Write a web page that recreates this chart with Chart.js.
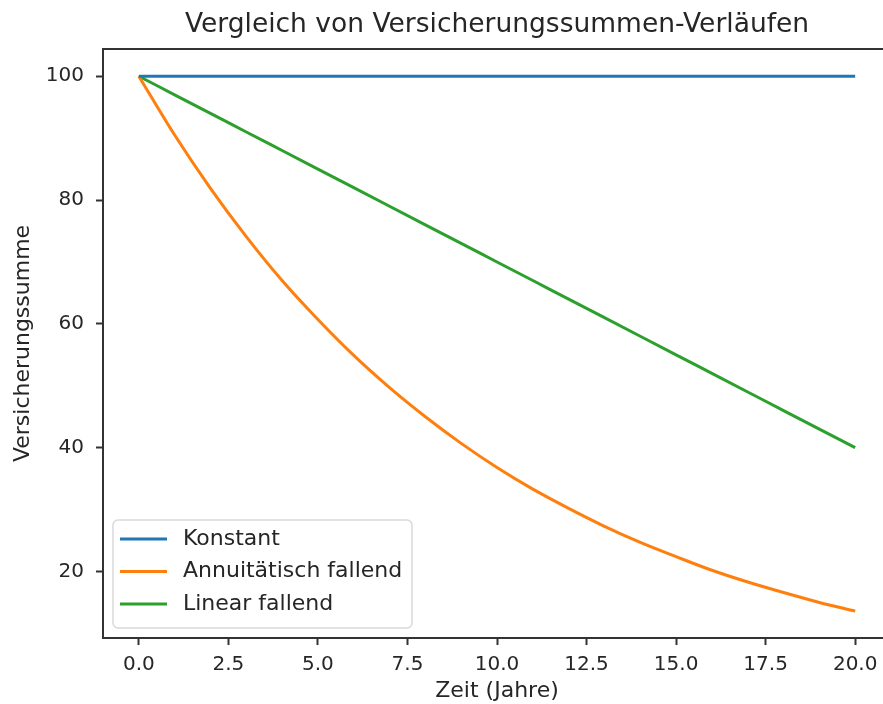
<!DOCTYPE html>
<html lang="de">
<head>
<meta charset="utf-8">
<title>Vergleich von Versicherungssummen-Verläufen</title>
<script src="https://cdn.jsdelivr.net/npm/chart.js@4.4.1/dist/chart.umd.min.js"></script>
<style>
    html, body { margin: 0; padding: 0; background: #fff; overflow: hidden; }
    #wrap { position: relative; width: 920px; height: 704px; }
</style>
</head>
<body>
<div id="wrap"><canvas id="sumChart"></canvas></div>
<script>
// Jahre 0..20
const years = [0, 1, 2, 3, 4, 5, 6, 7, 8, 9, 10, 11, 12, 13, 14, 15, 16, 17, 18, 19, 20];

// Versicherungssummen
const konstant = [100, 100, 100, 100, 100, 100, 100, 100, 100, 100, 100, 100, 100, 100, 100, 100, 100, 100, 100, 100, 100];
const annuitaetisch = [100, 90.5, 81.9, 74.1, 67.0, 60.7, 54.9, 49.7, 45.0, 40.7, 36.8, 33.3, 30.2, 27.3, 24.7, 22.4, 20.2, 18.3, 16.6, 15.0, 13.6];
const linear = [100, 97, 94, 91, 88, 85, 82, 79, 76, 73, 70, 67, 64, 61, 58, 55, 52, 49, 46, 43, 40];

const seriesLabels = ["Konstant", "Annuitätisch fallend", "Linear fallend"];
const seriesColors = ["#1f77b4", "#ff7f0e", "#2ca02c"];

const xTicks = [0, 2.5, 5, 7.5, 10, 12.5, 15, 17.5, 20];
const yTicks = [20, 40, 60, 80, 100];

const titleText = "Vergleich von Versicherungssummen-Verläufen";
const fontFamily = "'DejaVu Sans', sans-serif";
const textColor = "#262626";
const axisColor = "#333333";

function toPoints(values) {
    return years.map((y, i) => ({ x: y, y: values[i] }));
}

// Titel und oberer Rahmen (rechter Rahmen liegt ausserhalb des Bildes)
const framePlugin = {
    id: "frame",
    afterDraw(chart) {
        const { ctx, chartArea } = chart;
        ctx.save();
        ctx.strokeStyle = axisColor;
        ctx.lineWidth = 2;
        ctx.beginPath();
        ctx.moveTo(chartArea.left, chartArea.top);
        ctx.lineTo(chartArea.right, chartArea.top);
        ctx.stroke();

        ctx.fillStyle = textColor;
        ctx.font = "26.5px " + fontFamily;
        ctx.textAlign = "center";
        ctx.textBaseline = "middle";
        ctx.fillText(titleText, (chartArea.left + chartArea.right) / 2, 25);
        ctx.restore();
    }
};

// Legende innerhalb des Diagramms, unten links
const insideLegend = {
    id: "insideLegend",
    afterDatasetsDraw(chart) {
        const { ctx, chartArea } = chart;
        const boxX = chartArea.left + 10;
        const boxW = 299;
        const boxH = 108;
        const boxY = chartArea.bottom - 10 - boxH;
        const rowH = 32.5;

        ctx.save();
        ctx.fillStyle = "rgba(255,255,255,0.85)";
        ctx.strokeStyle = "#d9d9d9";
        ctx.lineWidth = 1.5;
        ctx.beginPath();
        ctx.roundRect(boxX, boxY, boxW, boxH, 5);
        ctx.fill();
        ctx.stroke();

        ctx.font = "22px " + fontFamily;
        ctx.textBaseline = "middle";
        ctx.textAlign = "left";
        chart.data.datasets.forEach((ds, i) => {
            const cy = boxY + 19 + i * rowH;
            ctx.strokeStyle = ds.borderColor;
            ctx.lineWidth = 3;
            ctx.beginPath();
            ctx.moveTo(boxX + 7, cy);
            ctx.lineTo(boxX + 54, cy);
            ctx.stroke();
            ctx.fillStyle = textColor;
            ctx.fillText(ds.label, boxX + 70, cy);
        });
        ctx.restore();
    }
};

const canvas = document.getElementById("sumChart");
new Chart(canvas.getContext("2d"), {
    type: "line",
    data: {
        datasets: [
            { label: seriesLabels[0], data: toPoints(konstant), borderColor: seriesColors[0] },
            { label: seriesLabels[1], data: toPoints(annuitaetisch), borderColor: seriesColors[1] },
            { label: seriesLabels[2], data: toPoints(linear), borderColor: seriesColors[2] }
        ]
    },
    options: {
        responsive: true,
        maintainAspectRatio: false,
        animation: false,
        devicePixelRatio: 1,
        layout: { padding: { top: 49, right: 29, left: 0, bottom: 0 } },
        elements: {
            line: { borderWidth: 3, tension: 0.4, cubicInterpolationMode: "monotone", fill: false },
            point: { radius: 0, hoverRadius: 0 }
        },
        plugins: {
            legend: { display: false },
            title: { display: false },
            tooltip: { enabled: false }
        },
        scales: {
            x: {
                type: "linear",
                min: -1,
                max: 21,
                afterBuildTicks: scale => { scale.ticks = xTicks.map(v => ({ value: v })); },
                afterFit: scale => { scale.height = 66; },
                ticks: {
                    callback: v => v.toFixed(1),
                    font: { family: fontFamily, size: 20 },
                    color: textColor,
                    padding: 8,
                    maxRotation: 0,
                    autoSkip: false
                },
                grid: { drawOnChartArea: false, drawTicks: true, tickLength: 7, tickWidth: 2, color: axisColor },
                border: { display: true, color: axisColor, width: 2 },
                title: {
                    display: true,
                    text: "Zeit (Jahre)",
                    font: { family: fontFamily, size: 22 },
                    color: textColor,
                    padding: { top: 0, bottom: 0 }
                }
            },
            y: {
                min: 9.26,
                max: 104.4,
                afterBuildTicks: scale => { scale.ticks = yTicks.map(v => ({ value: v })); },
                afterFit: scale => { scale.width = 103; },
                ticks: {
                    font: { family: fontFamily, size: 20 },
                    color: textColor,
                    padding: 12
                },
                grid: { drawOnChartArea: false, drawTicks: true, tickLength: 7, tickWidth: 2, color: axisColor },
                border: { display: true, color: axisColor, width: 2 },
                title: {
                    display: true,
                    text: "Versicherungssumme",
                    font: { family: fontFamily, size: 22 },
                    color: textColor,
                    padding: { top: 10, bottom: 0 }
                }
            }
        }
    },
    plugins: [framePlugin, insideLegend]
});
</script>
</body>
</html>
